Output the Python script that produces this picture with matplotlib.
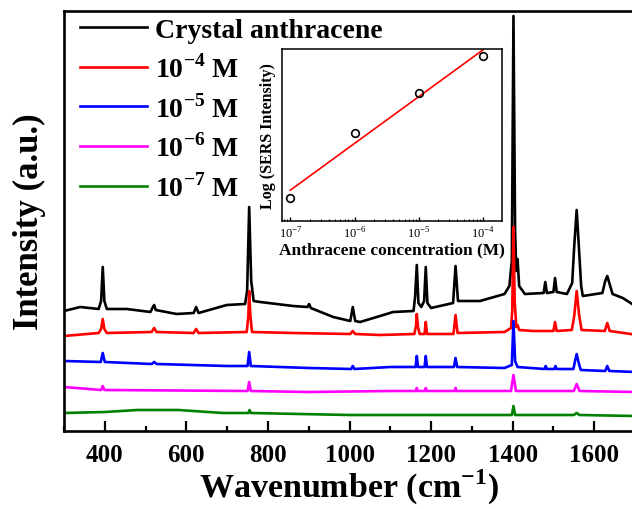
"""SERS spectra of anthracene at several concentrations, with log-log inset"""

import numpy as np
import matplotlib
matplotlib.use("Agg")
import matplotlib.pyplot as plt
from matplotlib.ticker import MultipleLocator, LogLocator, NullFormatter

plt.rcParams["font.family"] = "Liberation Serif"
plt.rcParams["font.weight"] = "bold"
plt.rcParams["axes.labelweight"] = "bold"

# Spectra: (wavenumber, intensity) vertices, a.u.
black_w = [300, 340, 385, 391, 395, 399, 405, 454, 512, 518, 521, 525, 576, 618,
           624, 630, 699, 744, 749, 754, 759, 765, 781, 862, 897, 901, 905, 960,
           1002, 1008, 1014, 1026, 1075, 1107, 1157, 1161, 1165, 1169, 1176, 1183,
           1187, 1191, 1200, 1254, 1260, 1266, 1320, 1380, 1392, 1398, 1402, 1406,
           1409, 1412, 1416, 1430, 1476, 1480, 1484, 1500, 1504, 1508, 1533, 1546,
           1551, 1557, 1563, 1568, 1572, 1620, 1627, 1632, 1637, 1645, 1670, 1693,
           1700]
black_i = [120, 124, 122, 130, 164, 130, 122, 122, 119, 124, 126, 121, 117, 118,
           124, 118, 126, 127, 140, 224, 150, 130, 129, 125, 124, 127, 123, 114,
           110, 124, 110, 109, 115, 119, 120, 135, 166, 128, 124, 130,
           164, 128, 123, 128, 165, 130, 130, 137, 145, 170, 415, 200,
           160, 172, 145, 137, 138, 149, 138, 139, 153, 139, 137, 148,
           185, 221, 180, 145, 135, 138, 150, 155, 148, 137, 133, 127,
           126]

red_w = [300, 385, 391, 395, 399, 405, 515, 521, 527, 618, 624, 630, 748, 752,
         754, 757, 761, 862, 1002, 1008, 1014, 1075, 1159, 1163, 1165, 1168, 1172,
         1184, 1187, 1190, 1255, 1260, 1265, 1380, 1396, 1399, 1402, 1405, 1409,
         1412, 1416, 1450, 1500, 1504, 1508, 1545, 1551, 1557, 1563, 1569, 1626,
         1632, 1638, 1690, 1700]
red_i = [95, 98, 102, 112, 102, 98, 99, 103, 99, 98, 102, 98, 99, 115,
         140, 115, 99, 98, 97, 100, 97, 96, 97, 105, 117, 104, 97,
         97, 109, 97, 97, 116, 98, 99, 103, 120, 204, 130, 104,
         106, 101, 100, 100, 109, 100, 101, 115, 140, 116, 101, 100,
         108, 100, 97, 96]

blue_w = [300, 390, 395, 400, 515, 521, 527, 700, 750, 754, 758, 900, 1004, 1008,
          1012, 1100, 1162, 1165, 1168, 1184, 1187, 1190, 1256, 1260, 1264, 1380,
          1398, 1402, 1406, 1412, 1478, 1481, 1484, 1502, 1505, 1508, 1549, 1553,
          1557, 1562, 1567, 1627, 1632, 1637, 1700]
blue_i = [70, 69, 78, 69, 67, 69, 67, 65, 65, 79, 65, 63, 62, 65,
          62, 64, 64, 75, 64, 64, 75, 64, 64, 73, 64, 63,
          66, 110, 70, 64, 62, 65, 62, 62, 65, 62, 62, 70,
          77, 68, 61, 60, 65, 60, 59]

magenta_w = [300, 391, 395, 399, 750, 754, 758, 900, 1100, 1163, 1165, 1167, 1185,
             1187, 1189, 1258, 1260, 1262, 1396, 1402, 1408, 1550, 1557, 1564, 1700]
magenta_i = [44, 41, 45, 41, 40, 49, 40, 39, 40, 40, 43, 40, 40,
             43, 40, 40, 43, 40, 40, 56, 40, 40, 47, 40, 39]

green_w = [300, 400, 480, 580, 690, 752, 755, 758, 1000, 1398, 1402, 1406, 1550,
           1557, 1564, 1700]
green_i = [18, 19, 21, 21, 18, 18, 21, 18, 16, 16, 25, 16, 16, 18, 16, 15]

labels = ["Crystal anthracene", r"10$^{\mathregular{-4}}$ M",
          r"10$^{\mathregular{-5}}$ M", r"10$^{\mathregular{-6}}$ M",
          r"10$^{\mathregular{-7}}$ M"]
colors = ["black", "#ff0000", "#0000ff", "#ff00ff", "#008000"]

# Inset: concentration vs log(SERS intensity), arbitrary units
conc = [1e-7, 1e-6, 1e-5, 1e-4]
log_sers = [22.7, 88.0, 128.0, 165.3]
conc_ticks = [1e-7, 1e-6, 1e-5, 1e-4]
conc_labels = [r"10$^{\mathregular{-7}}$", r"10$^{\mathregular{-6}}$",
               r"10$^{\mathregular{-5}}$", r"10$^{\mathregular{-4}}$"]

fig = plt.figure(figsize=(6.32, 5.10), dpi=100)
ax = fig.add_axes([64 / 632, 1 - 432 / 510, (635 - 64) / 632, 420 / 510])

series = [(black_w, black_i), (red_w, red_i), (blue_w, blue_i),
          (magenta_w, magenta_i), (green_w, green_i)]
for (w, i), c, lab in zip(series, colors, labels):
    ax.plot(w, i, color=c, lw=1.9, label=lab)

ax.set_xlim(300, 1700)
ax.set_ylim(0, 420)
ax.set_yticks([])
ax.xaxis.set_major_locator(MultipleLocator(200))
ax.xaxis.set_minor_locator(MultipleLocator(100))
ax.tick_params(axis="x", which="major", direction="in", length=7, width=1.6,
               labelsize=18, pad=9)
ax.tick_params(axis="x", which="minor", direction="in", length=3.5, width=1.6)
for s in ax.spines.values():
    s.set_linewidth(1.9)
ax.spines["right"].set_visible(False)

ax.set_xlabel(r"Wavenumber (cm$^{\mathregular{-1}}$)", fontsize=24.5)
ax.set_ylabel("Intensity (a.u.)", fontsize=25)
ax.xaxis.set_label_coords(0.5, -0.085)
ax.yaxis.set_label_coords(-0.031, 0.5)

ax.legend(loc="upper left", bbox_to_anchor=(0.028, 0.985), frameon=False,
          fontsize=20, handlelength=2.4, handletextpad=0.3, labelspacing=0.4,
          borderpad=0, borderaxespad=0)

# Inset
ins = fig.add_axes([282 / 632, 1 - 222 / 510, 220 / 632, 172 / 510])
ins.set_xscale("log")
ins.set_xlim(10 ** -7.13, 10 ** -3.705)
ins.set_ylim(0, 172)
fit = np.polyfit(np.log10(conc), log_sers, 1)
ins.plot(conc, np.polyval(fit, np.log10(conc)), color="#ff0000", lw=1.2)
ins.plot(conc, log_sers, "o", mfc="none", mec="black", ms=5.5, mew=1.2)
ins.set_yticks([])
ins.set_xticks(conc_ticks)
ins.set_xticklabels(conc_labels, fontweight="normal")
ins.xaxis.set_minor_locator(LogLocator(base=10, subs=np.arange(2, 10)))
ins.xaxis.set_minor_formatter(NullFormatter())
ins.tick_params(axis="x", which="major", direction="in", length=3, width=1,
                labelsize=9, pad=3)
ins.tick_params(axis="x", which="minor", direction="in", length=1.5, width=0.8)
for s in ins.spines.values():
    s.set_linewidth(1.1)
ins.set_xlabel("Anthracene concentration (M)", fontsize=12.5, labelpad=1)
ins.set_ylabel("Log (SERS Intensity)", fontsize=11.5, labelpad=4)

plt.savefig("out.png", dpi=100)
plt.close()
